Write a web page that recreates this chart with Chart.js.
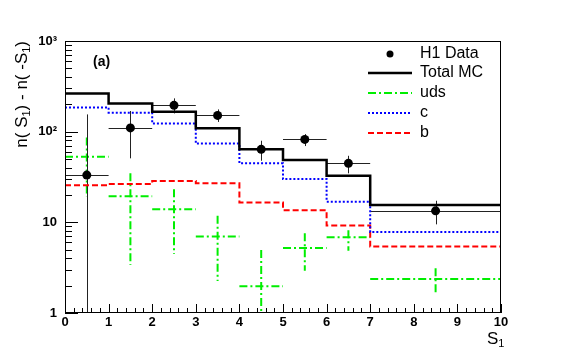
<!DOCTYPE html>
<html>
<head>
<meta charset="utf-8">
<script src="https://cdn.jsdelivr.net/npm/chart.js@4"></script>
<style>
  html, body { margin: 0; padding: 0; background: #fff; }
  #wrap { width: 567px; height: 354px; }
</style>
</head>
<body>
<div id="wrap"><canvas id="myChart" width="567" height="354"></canvas></div>
<script>
// bin edges (last bin is wide: 7-10)
const binEdges = [0, 1, 2, 3, 4, 5, 6, 7, 10];

// MC histograms
const totalMC = [264, 205, 166, 109, 64, 48.6, 32.6, 15.5];
const cQuark  = [185, 162, 123, 74, 44.7, 30, 16.9, 7.8];
const bQuark  = [25.6, 26.4, 28.5, 26.9, 16.6, 13.6, 9.2, 5.4];

// uds drawn as crosses (value, upper, lower)
const udsVal = [52.9, 19.4, 13.9, 7.0, 1.97, 5.2, 6.83, 2.37];
const udsUp  = [86.5, 34.7, 23.1, 11.8, 4.95, 7.57, 8.2, 3.11];
const udsLo  = [19.2, 3.38, 4.47, 2.25, 0.5, 2.93, 4.86, 1.65];

// H1 data
const dataVal = [33.2, 110, 195, 151, 63.8, 82.2, 44.7, 13.4];
const dataUp  = [155, 169, 233, 176, 79.4, 94, 54.2, 17.3];
const dataLo  = [0.5, 50.8, 159, 128, 47.8, 69.4, 34.7, 9.5];

const yTicks = [1, 10, 100, 1000];
const yTickLabels = ['1', '10', '10\u00B2', '10\u00B3'];

const binCenters = binEdges.slice(0, -1).map((lo, i) => (lo + binEdges[i + 1]) / 2);

function steps(vals) {
  const pts = [];
  vals.forEach((v, i) => {
    pts.push({ x: binEdges[i], y: v });
    pts.push({ x: binEdges[i + 1], y: v });
  });
  return pts;
}

function line(ctx, x1, y1, x2, y2) {
  ctx.beginPath(); ctx.moveTo(x1, y1); ctx.lineTo(x2, y2); ctx.stroke();
}

// text with subscript "1" segments: array of [text, isSub]
function drawRich(ctx, parts, size) {
  let x = 0;
  parts.forEach(p => {
    ctx.font = (p[1] ? Math.round(size * 0.65) : size) + 'px "Liberation Sans", Arial, sans-serif';
    ctx.fillText(p[0], x, p[1] ? size * 0.3 : 0);
    x += ctx.measureText(p[0]).width;
  });
  return x;
}
function richWidth(ctx, parts, size) {
  let w = 0;
  parts.forEach(p => {
    ctx.font = (p[1] ? Math.round(size * 0.65) : size) + 'px "Liberation Sans", Arial, sans-serif';
    w += ctx.measureText(p[0]).width;
  });
  return w;
}

const rootPlugin = {
  id: 'rootStyle',
  beforeDatasetsDraw(chart) {
    const { ctx, chartArea: a, scales: { x, y } } = chart;
    ctx.save();
    ctx.beginPath(); ctx.rect(a.left, a.top, a.right - a.left, a.bottom - a.top); ctx.clip();
    // uds crosses
    ctx.strokeStyle = '#00ee00';
    ctx.lineWidth = 2;
    ctx.setLineDash([8, 3, 2, 3]);
    udsVal.forEach((v, i) => {
      const py = y.getPixelForValue(v);
      line(ctx, x.getPixelForValue(binEdges[i]), py, x.getPixelForValue(binEdges[i + 1]), py);
      const px = x.getPixelForValue(binCenters[i]);
      line(ctx, px, y.getPixelForValue(udsUp[i]), px, y.getPixelForValue(Math.max(udsLo[i], 0.5)));
    });
    // data error bars
    ctx.setLineDash([]);
    ctx.strokeStyle = '#222';
    ctx.lineWidth = 1;
    dataVal.forEach((v, i) => {
      const py = Math.round(y.getPixelForValue(v)) + 0.5;
      line(ctx, x.getPixelForValue(binEdges[i]), py, x.getPixelForValue(binEdges[i + 1]), py);
      const px = Math.round(x.getPixelForValue(binCenters[i])) + 0.5;
      line(ctx, px, y.getPixelForValue(dataUp[i]), px, y.getPixelForValue(Math.max(dataLo[i], 0.5)));
    });
    ctx.restore();
  },
  afterDatasetsDraw(chart) {
    const { ctx, chartArea: a, scales: { x, y } } = chart;
    ctx.save();
    // frame
    ctx.strokeStyle = '#000';
    ctx.lineWidth = 1;
    ctx.strokeRect(a.left + 0.5, a.top + 0.5, a.right - a.left - 1, a.bottom - a.top - 1);
    // y ticks (inside, on left)
    for (let d = 1; d < 1000; d *= 10) {
      for (let k = 1; k < 10; k++) {
        const py = Math.round(y.getPixelForValue(d * k)) + 0.5;
        line(ctx, a.left, py, a.left + (k === 1 ? 13 : 7), py);
      }
    }
    // x ticks (inside, on bottom)
    for (let t = 0; t <= 50; t++) {
      const px = Math.round(x.getPixelForValue(t * 0.2)) + 0.5;
      line(ctx, px, a.bottom, px, a.bottom - (t % 5 === 0 ? 9 : 5));
    }
    ctx.fillStyle = '#000';
    ctx.textBaseline = 'middle';
    // (a)
    ctx.font = 'bold 14px "Liberation Sans", Arial, sans-serif';
    ctx.textAlign = 'left';
    ctx.fillText('(a)', 93, 62);

    // legend
    const lx1 = 368, lx2 = 412, tx = 420;
    const rows = [54, 73, 93, 113, 133];
    ctx.font = '16px "Liberation Sans", Arial, sans-serif';
    ['H1 Data', 'Total MC', 'uds', 'c', 'b'].forEach((t, i) => ctx.fillText(t, tx, rows[i]));
    ctx.beginPath(); ctx.arc(390, rows[0], 3.5, 0, Math.PI * 2); ctx.fill();
    ctx.lineWidth = 2.5; ctx.strokeStyle = '#000';
    line(ctx, lx1, rows[1], lx2, rows[1]);
    ctx.lineWidth = 2; ctx.strokeStyle = '#00ee00'; ctx.setLineDash([8, 3, 2, 3]);
    line(ctx, lx1, rows[2], lx2, rows[2]);
    ctx.strokeStyle = '#0000ff'; ctx.setLineDash([2, 2]);
    line(ctx, lx1, rows[3], lx2, rows[3]);
    ctx.strokeStyle = '#ff0000'; ctx.setLineDash([6, 3]);
    line(ctx, lx1, rows[4], lx2, rows[4]);
    ctx.setLineDash([]);

    // x title
    ctx.save();
    ctx.translate(487, 339);
    drawRich(ctx, [['S', false], ['1', true]], 17);
    ctx.restore();

    // y title, rotated, aligned to top
    const yParts = [['n( S', false], ['1', true], [') - n( -S', false], ['1', true], [')', false]];
    const w = richWidth(ctx, yParts, 17);
    ctx.save();
    ctx.translate(22, a.top + w);
    ctx.rotate(-Math.PI / 2);
    drawRich(ctx, yParts, 17);
    ctx.restore();
    ctx.restore();
  }
};

const ctx = document.getElementById('myChart').getContext('2d');
const myChart = new Chart(ctx, {
  type: 'line',
  data: {
    datasets: [
      {
        label: 'H1 Data',
        type: 'scatter',
        data: dataVal.map((v, i) => ({ x: binCenters[i], y: v })),
        pointRadius: 4.5,
        pointBackgroundColor: '#000',
        pointBorderWidth: 0,
        order: 0,
      },
      {
        label: 'Total MC',
        data: steps(totalMC),
        borderColor: '#000',
        borderWidth: 2.5,
        pointRadius: 0,
        tension: 0,
        order: 1,
      },
      {
        label: 'c',
        data: steps(cQuark),
        borderColor: '#0000ff',
        borderWidth: 2,
        borderDash: [2, 2],
        pointRadius: 0,
        tension: 0,
        order: 2,
      },
      {
        label: 'b',
        data: steps(bQuark),
        borderColor: '#ff0000',
        borderWidth: 2,
        borderDash: [6, 3],
        pointRadius: 0,
        tension: 0,
        order: 3,
      },
    ],
  },
  options: {
    responsive: false,
    animation: false,
    layout: { padding: { left: 0, top: 41, right: 66, bottom: 0 } },
    plugins: {
      legend: { display: false },
      tooltip: { enabled: false },
    },
    scales: {
      x: {
        type: 'linear',
        min: 0,
        max: 10,
        grid: { display: false, drawTicks: false },
        border: { display: false },
        afterBuildTicks: (s) => { s.ticks = [0,1,2,3,4,5,6,7,8,9,10].map(v => ({ value: v })); },
        afterFit: (s) => { s.height = 41; },
        ticks: {
          color: '#000',
          padding: 2,
          maxRotation: 0,
          font: { family: '"Liberation Sans", Arial, sans-serif', size: 13, weight: 'bold' },
          callback: (v) => String(v),
        },
      },
      y: {
        type: 'logarithmic',
        min: 1,
        max: 1000,
        grid: { display: false, drawTicks: false },
        border: { display: false },
        afterBuildTicks: (s) => { s.ticks = yTicks.map(v => ({ value: v })); },
        afterFit: (s) => { s.width = 65; },
        ticks: {
          color: '#000',
          padding: 8,
          font: { family: '"Liberation Sans", Arial, sans-serif', size: 13, weight: 'bold' },
          callback: (v) => yTickLabels[yTicks.indexOf(v)] || '',
        },
      },
    },
  },
  plugins: [rootPlugin],
});
</script>
</body>
</html>
